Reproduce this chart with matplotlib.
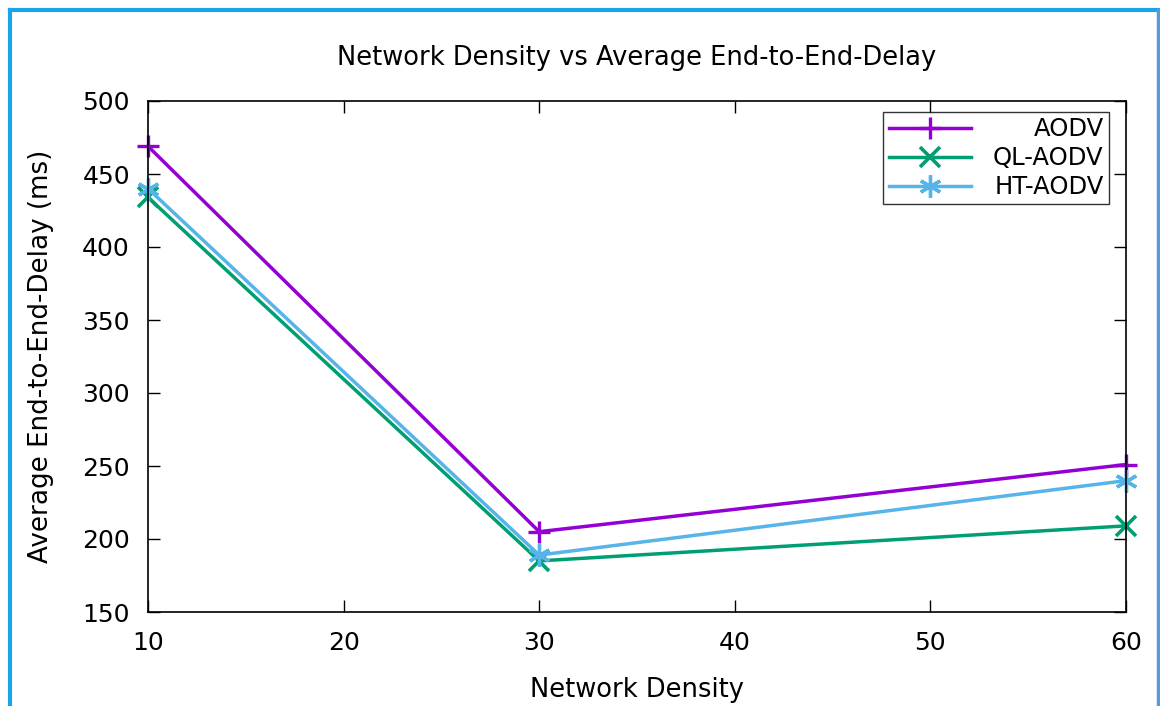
import matplotlib.pyplot as plt
from matplotlib.lines import Line2D

# Data
density = [10, 30, 60]
aodv = [469, 205, 251]
ql_aodv = [434, 185, 209]
ht_aodv = [440, 189, 240]

colors = ['#9400d3', '#009e73', '#56b4e9']

fig = plt.figure(figsize=(11.6, 7.06), dpi=100)
ax = fig.add_axes([148 / 1160, 1 - 612 / 706, (1126 - 148) / 1160, (612 - 101) / 706])

ax.plot(density, aodv, color=colors[0], lw=2.5, marker='+', ms=16, mew=2.4, label='AODV', clip_on=False)
ax.plot(density, ql_aodv, color=colors[1], lw=2.5, marker='x', ms=15, mew=2.6, label='QL-AODV', clip_on=False)
ax.plot(density, ht_aodv, color=colors[2], lw=2.5, marker=(6, 2, 0), ms=16, mew=2.4, label='HT-AODV', clip_on=False)

ax.set_xlim(10, 60)
ax.set_ylim(150, 500)
ax.set_xticks(range(10, 61, 10))
ax.set_yticks(range(150, 501, 50))
ax.tick_params(direction='in', length=8.5, width=1, top=True, right=True, labelsize=18)
ax.tick_params(axis='x', pad=14)
ax.tick_params(axis='y', pad=13)
for s in ax.spines.values():
    s.set_linewidth(1.2)

ax.set_title('Network Density vs Average End-to-End-Delay', fontsize=18.5, pad=26)
ax.set_xlabel('Network Density', fontsize=18.5)
ax.set_ylabel('Average End-to-End-Delay (ms)', fontsize=18.8)
ax.xaxis.set_label_coords(0.5, -0.127)
ax.yaxis.set_label_coords(-0.096, 0.5)

leg = ax.legend(loc='upper right', bbox_to_anchor=(1 - 17 / 978, 1 - 11 / 511), fontsize=17.5, frameon=True,
                fancybox=False, edgecolor='black', handlelength=3.4, handletextpad=0.9,
                borderpad=0.22, labelspacing=0.2, borderaxespad=0)
leg.get_frame().set_linewidth(1.0)

# right-align legend text like gnuplot
fig.canvas.draw()
r = fig.canvas.get_renderer()
widths = [t.get_window_extent(r).width for t in leg.get_texts()]
for t, w in zip(leg.get_texts(), widths):
    t.set_position((max(widths) - w, 0))

# blue frame around the picture
fig.add_artist(Line2D([9.5 / 1160, 9.5 / 1160], [0, 1 - 9.5 / 706], color='#1aa3e8', lw=3, transform=fig.transFigure))
fig.add_artist(Line2D([9.5 / 1160, 1158 / 1160], [1 - 9.5 / 706, 1 - 9.5 / 706], color='#1aa3e8', lw=3, transform=fig.transFigure))
fig.add_artist(Line2D([1158 / 1160, 1158 / 1160], [0, 1 - 9.5 / 706], color='#5b9bd5', lw=2.5, transform=fig.transFigure))

fig.savefig('out.png', dpi=100)
